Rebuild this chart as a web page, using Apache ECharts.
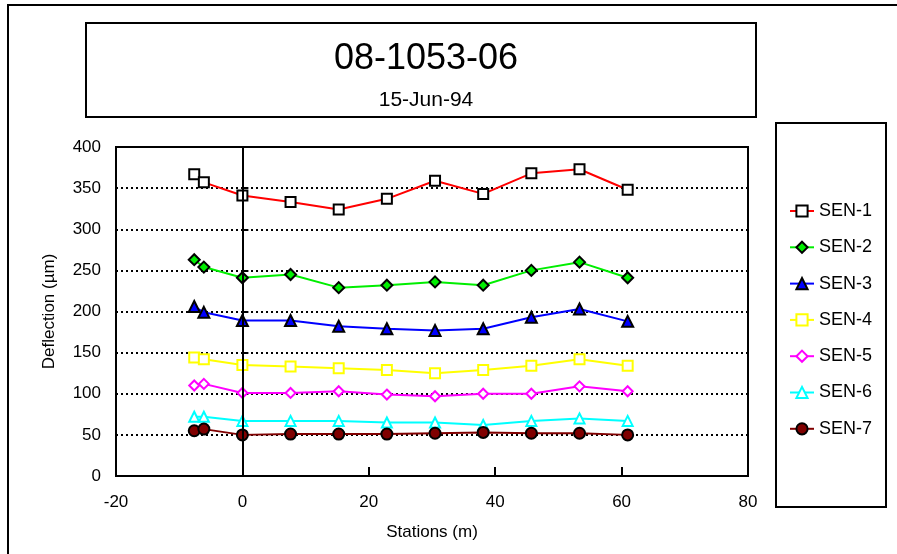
<!DOCTYPE html>
<html>
<head>
<meta charset="utf-8">
<script src="https://cdn.jsdelivr.net/npm/echarts@6/dist/echarts.min.js"></script>
<style>
html,body{margin:0;padding:0;background:#fff;}
#chart{width:897px;height:554px;}
</style>
</head>
<body>
<div id="chart"></div>
<script>
var titleText = '08-1053-06';
var subtitleText = '15-Jun-94';
var xAxisName = 'Stations (m)';
var yAxisName = 'Deflection (µm)';
var stations = [-7.62, -6.10, 0, 7.62, 15.24, 22.86, 30.48, 38.10, 45.72, 53.34, 60.96];
var seriesNames = ['SEN-1', 'SEN-2', 'SEN-3', 'SEN-4', 'SEN-5', 'SEN-6', 'SEN-7'];
var sen1 = [367, 357, 341, 333, 324, 337, 359, 343, 368, 373, 348];
var sen2 = [263, 254, 241, 245, 229, 232, 236, 232, 250, 260, 241];
var sen3 = [206, 199, 189, 189, 182, 179, 177, 179, 193, 203, 188];
var sen4 = [144, 142, 135, 133, 131, 129, 125, 129, 134, 142, 134];
var sen5 = [110, 112, 101, 101, 103, 99, 97, 100, 100, 109, 103];
var sen6 = [72, 72, 67, 67, 67, 65, 65, 62, 67, 70, 67];
var sen7 = [55, 57, 50, 51, 51, 51, 52, 53, 52, 52, 50];
var xMin = -20, xMax = 80, xStep = 20;
var yMin = 0, yMax = 400, yStep = 50;

var allValues = [sen1, sen2, sen3, sen4, sen5, sen6, sen7];
var styles = [
  {line: '#ff0000', symbol: 'rect', fill: '#ffffff', border: '#000000', size: 10},
  {line: '#00ee00', symbol: 'diamond', fill: '#00ee00', border: '#000000', size: 11},
  {line: '#0000ff', symbol: 'triangle', fill: '#0000ff', border: '#000000', size: 11},
  {line: '#ffff00', symbol: 'rect', fill: '#ffffff', border: '#ffff00', size: 10},
  {line: '#ff00ff', symbol: 'diamond', fill: '#ffffff', border: '#ff00ff', size: 10},
  {line: '#00ffff', symbol: 'triangle', fill: '#ffffff', border: '#00ffff', size: 10},
  {line: '#800000', symbol: 'circle', fill: '#800000', border: '#000000', size: 11}
];
var FONT = '"Liberation Sans", Arial, sans-serif';

var series = seriesNames.map(function (name, i) {
  var st = styles[i];
  var s = {
    name: name,
    type: 'line',
    data: stations.map(function (x, j) { return [x, allValues[i][j]]; }),
    symbol: st.symbol,
    symbolSize: st.size,
    showAllSymbol: true,
    lineStyle: {color: st.line, width: 2},
    itemStyle: {color: st.fill, borderColor: st.border, borderWidth: 2},
    emphasis: {disabled: true},
    z: 3
  };
  if (i === 0) {
    s.markLine = {
      silent: true,
      symbol: ['none', 'none'],
      label: {show: false},
      lineStyle: {color: '#000', width: 2, type: 'solid'},
      data: [{xAxis: 0}],
      animation: false
    };
  }
  return s;
});

var chart = echarts.init(document.getElementById('chart'), null, {renderer: 'canvas'});
chart.setOption({
  animation: false,
  backgroundColor: '#ffffff',
  textStyle: {fontFamily: FONT},
  title: [
    {text: titleText, left: 421, top: 36, textAlign: 'center',
     textStyle: {fontSize: 36, fontWeight: 'normal', color: '#000', fontFamily: FONT}},
    {text: subtitleText, left: 421, top: 85, textAlign: 'center',
     textStyle: {fontSize: 21, fontWeight: 'normal', color: '#000', fontFamily: FONT}}
  ],
  graphic: [
    {type: 'rect', shape: {x: 8, y: 5, width: 900, height: 560}, style: {fill: 'none', stroke: '#000', lineWidth: 2}, z: -1},
    {type: 'rect', shape: {x: 86, y: 23, width: 670, height: 94}, style: {fill: 'none', stroke: '#000', lineWidth: 2}},
    {type: 'rect', shape: {x: 776, y: 123, width: 110, height: 384}, style: {fill: 'none', stroke: '#000', lineWidth: 2}}
  ],
  legend: {
    orient: 'vertical',
    left: 784,
    top: 197,
    itemWidth: 24,
    itemHeight: 14,
    itemGap: 18.3,
    textStyle: {fontSize: 18, color: '#000', fontFamily: FONT, lineHeight: 18},
    data: seriesNames
  },
  grid: {
    left: 116, right: 149, top: 147, bottom: 78,
    show: true, borderColor: '#000', borderWidth: 2, backgroundColor: 'transparent'
  },
  xAxis: {
    type: 'value', min: xMin, max: xMax, interval: xStep,
    name: xAxisName, nameLocation: 'middle', nameGap: 48,
    nameTextStyle: {fontSize: 17, color: '#000', fontFamily: FONT},
    axisLine: {show: false},
    axisTick: {show: true, inside: true, length: 9, lineStyle: {color: '#000', width: 2}},
    axisLabel: {fontSize: 17, color: '#000', margin: 18, fontFamily: FONT},
    splitLine: {show: false}
  },
  yAxis: {
    type: 'value', min: yMin, max: yMax, interval: yStep,
    name: yAxisName, nameLocation: 'middle', nameGap: 58, nameRotate: 90,
    nameTextStyle: {fontSize: 17, color: '#000', fontFamily: FONT},
    axisLine: {show: false},
    axisTick: {show: true, inside: true, length: 6, lineStyle: {color: '#000', width: 2}},
    axisLabel: {fontSize: 17, color: '#000', margin: 15, fontFamily: FONT},
    splitLine: {show: true, lineStyle: {color: '#000', width: 2, type: [2, 3]}}
  },
  series: series
});
</script>
</body>
</html>
